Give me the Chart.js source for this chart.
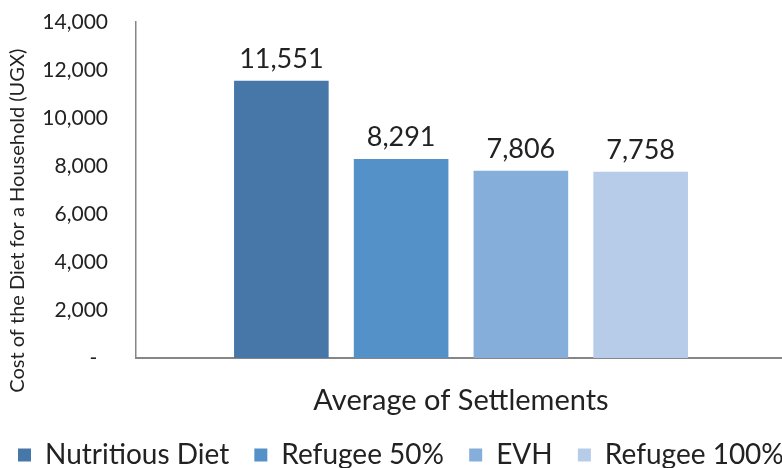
<!DOCTYPE html>
<html>
<head>
<meta charset="utf-8">
<script src="https://cdn.jsdelivr.net/npm/chart.js@4/dist/chart.umd.min.js"></script>
<style>
  html, body { margin: 0; padding: 0; background: #fff; overflow: hidden; }
  #wrap { position: relative; width: 830px; height: 479px; }
</style>
</head>
<body>
<div id="wrap"><canvas id="chart"></canvas></div>
<script>
const categories = ['Average of Settlements'];
const seriesNames = ['Nutritious Diet', 'Refugee 50%', 'EVH', 'Refugee 100%'];
const seriesValues = [11551, 8291, 7806, 7758];
const seriesColors = ['#4677a8', '#5591c9', '#85aedb', '#b7cce8'];
const yMax = 14000;
const yStep = 2000;

const font = 'Lato, "Open Sans", sans-serif';
const textColor = '#222';

// value labels above each bar
const barLabels = {
  id: 'barLabels',
  afterDatasetsDraw(chart) {
    const ctx = chart.ctx;
    ctx.save();
    ctx.font = '27px ' + font;
    ctx.fillStyle = textColor;
    ctx.textAlign = 'center';
    ctx.textBaseline = 'alphabetic';
    chart.data.datasets.forEach((ds, i) => {
      chart.getDatasetMeta(i).data.forEach((bar, j) => {
        ctx.fillText(ds.data[j].toLocaleString('en-US'), bar.x, bar.y - 13);
      });
    });
    ctx.restore();
  }
};

new Chart(document.getElementById('chart'), {
  type: 'bar',
  data: {
    labels: categories,
    datasets: seriesNames.map((name, i) => ({
      label: name,
      data: [seriesValues[i]],
      backgroundColor: seriesColors[i],
      borderWidth: 0,
      categoryPercentage: 0.737,
      barPercentage: 0.79
    }))
  },
  options: {
    responsive: true,
    maintainAspectRatio: false,
    animation: false,
    layout: { padding: { top: 22, left: 0, right: 0, bottom: 0 } },
    scales: {
      x: {
        grid: { display: false, drawTicks: false },
        border: { display: true, color: '#868686', width: 2 },
        ticks: { color: textColor, font: { family: font, size: 29 }, padding: 25 },
        afterFit(s) { s.height = 65; }
      },
      y: {
        min: 0,
        max: yMax,
        grid: { display: false, drawTicks: false },
        border: { display: true, color: '#868686', width: 1.5 },
        ticks: {
          stepSize: yStep,
          color: textColor,
          font: { family: font, size: 21 },
          padding: 28,
          callback: v => v === 0 ? '-  ' : v.toLocaleString('en-US')
        },
        title: {
          display: true,
          text: 'Cost of the Diet for a Household (UGX)            ',
          color: textColor,
          font: { family: font, size: 20 },
          padding: { top: 6, bottom: 0 }
        },
        afterFit(s) { s.width = 136; s.paddingTop = 0; s.paddingBottom = 0; }
      },
      // empty right-hand axis: plot runs just past the window edge
      yRight: {
        position: 'right',
        grid: { display: false, drawTicks: false },
        border: { display: false },
        ticks: { display: false },
        afterFit(s) { s.width = 44; }
      }
    },
    plugins: {
      tooltip: { enabled: false },
      legend: {
        position: 'bottom',
        align: 'start',
        labels: {
          color: textColor,
          font: { family: font, size: 28 },
          boxWidth: 13,
          boxHeight: 13,
          padding: 18,
          generateLabels(chart) {
            const items = Chart.defaults.plugins.legend.labels.generateLabels(chart);
            return items.map((it, i) => ({ ...it, text: i < items.length - 1 ? it.text + ' ' : it.text }));
          }
        }
      }
    }
  },
  plugins: [barLabels]
});
</script>
</body>
</html>
